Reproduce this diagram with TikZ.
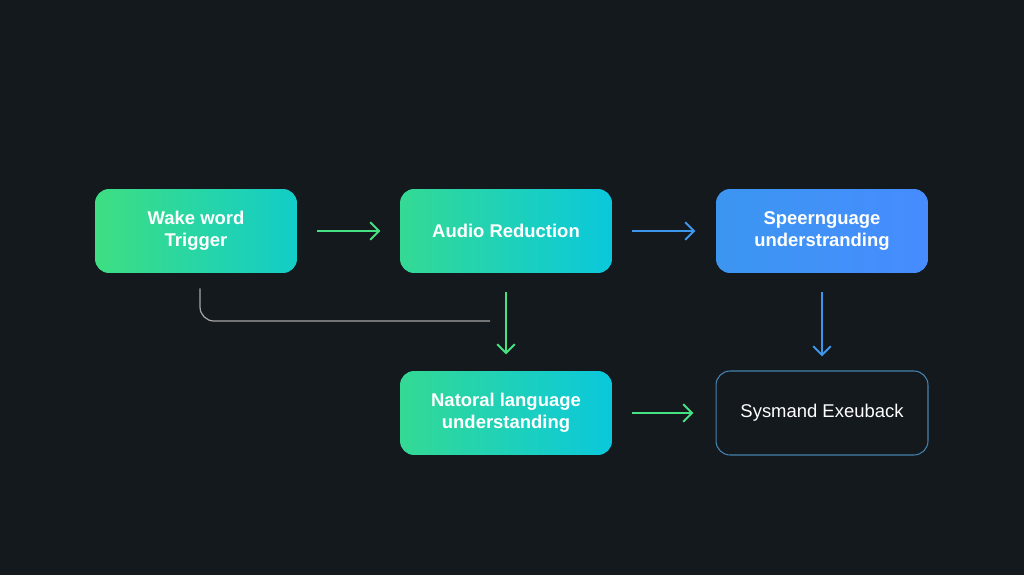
\documentclass[tikz,border=0pt]{standalone}
\usepackage{fontspec}
\setmainfont{Liberation Sans}
\usetikzlibrary{arrows.meta}
\definecolor{bg}{RGB}{20,25,30}
\definecolor{gA}{RGB}{62,222,130}
\definecolor{cA}{RGB}{18,205,200}
\definecolor{cB}{RGB}{10,200,220}
\definecolor{bA}{RGB}{60,150,240}
\definecolor{bB}{RGB}{70,140,255}
\definecolor{garr}{RGB}{70,225,130}
\definecolor{barr}{RGB}{60,150,235}
\definecolor{eborder}{RGB}{70,130,175}
\begin{document}
\begin{tikzpicture}[x=0.02cm,y=-0.02cm]
	\tikzstyle{stage} = [rectangle,rounded corners=8pt,minimum width=4.24cm,minimum height=1.68cm,align=center,text=white,font=\fontsize{10.5}{12.5}\selectfont\bfseries]
	\tikzstyle{flow} = [-{Straight Barb[length=5pt,width=10pt]},line width=1.1pt]
	
	\fill[bg] (0,0) rectangle (1024,575);
	
	\node[stage,minimum width=4.04cm,left color=gA,right color=cA](wake) at (196,231){Wake word\\Trigger};
	\node[stage,left color=gA!80!cB,right color=cB](audio) at (506,231){Audio Reduction};
	\node[stage,left color=bA,right color=bB](speech) at (822,231){Speernguage\\understranding};
	\node[stage,left color=gA!80!cB,right color=cB](nlu) at (506,413){Natoral language\\understanding};
	\node[stage,draw=eborder,line width=0.6pt,fill=bg](exec) at (822,413){\mdseries Sysmand Exeuback};
	
	\path[flow,garr] (wake.east) ++(20,0) edge ++(63,0);
	\path[flow,barr] (audio.east) ++(20,0) edge ++(63,0);
	\path[flow,garr] (nlu.east) ++(20,0) edge ++(61,0);
	\path[flow,garr] (audio.south) ++(0,19) edge ++(0,62);
	\path[flow,barr] (speech.south) ++(0,19) edge ++(0,64);
	
	\draw[gray!70,line width=0.7pt,rounded corners=8pt] (wake.south) ++(4,15) |- (490,321);
\end{tikzpicture}
\end{document}
